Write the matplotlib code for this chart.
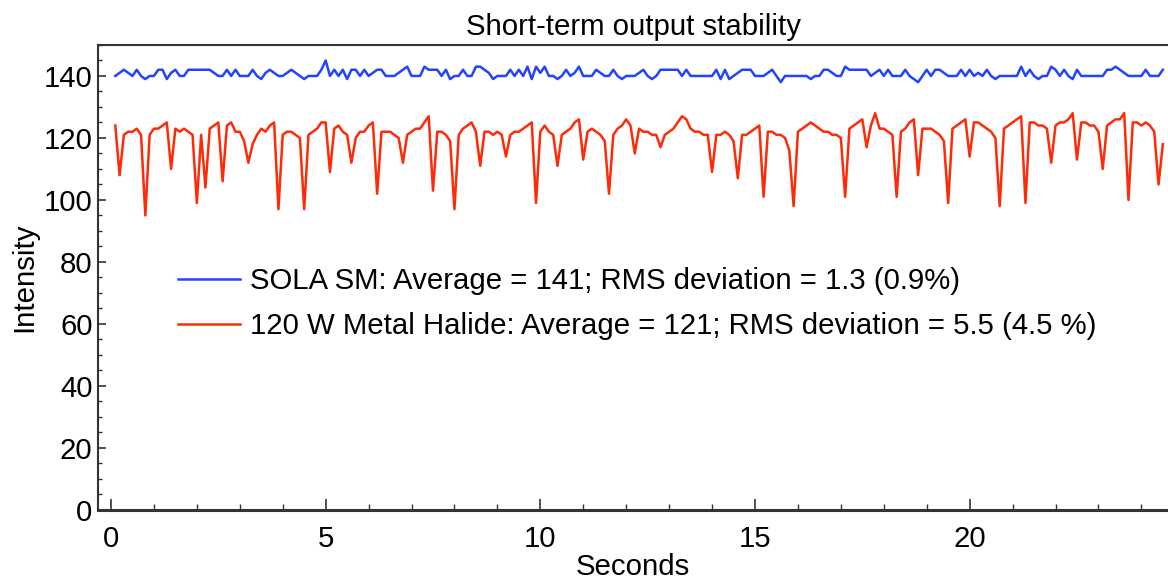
import numpy as np
import matplotlib.pyplot as plt
from matplotlib.ticker import MultipleLocator

plt.rcParams['font.family'] = ['Liberation Sans', 'DejaVu Sans']

# sample times, 0.1 s steps (0.1 .. 24.5 s)
seconds = np.round(np.arange(1, 246) * 0.1, 1)

# SOLA SM light engine
sola = [
    140, 141, 142, 141, 140, 142, 140, 139, 140, 140,
    142, 142, 139, 141, 142, 140, 140, 142, 142, 142,
    142, 142, 142, 141, 140, 140, 142, 140, 142, 140,
    140, 140, 142, 140, 139, 141, 142, 141, 140, 140,
    141, 142, 141, 140, 139, 140, 140, 140, 142, 145,
    140, 142, 140, 142, 139, 142, 142, 140, 142, 140,
    141, 142, 142, 140, 140, 140, 141, 142, 143, 140,
    140, 140, 143, 142, 142, 142, 140, 142, 139, 140,
    140, 142, 140, 140, 143, 143, 142, 141, 139, 140,
    140, 140, 142, 140, 142, 140, 143, 139, 143, 141,
    143, 140, 140, 139, 140, 142, 140, 141, 143, 140,
    140, 140, 142, 141, 140, 140, 142, 140, 139, 140,
    140, 140, 141, 142, 140, 139, 140, 142, 142, 142,
    142, 142, 140, 142, 140, 140, 140, 140, 140, 140,
    142, 139, 142, 139, 140, 141, 142, 142, 142, 140,
    140, 140, 141, 142, 140, 138, 140, 140, 140, 140,
    140, 140, 139, 140, 140, 142, 142, 141, 140, 140,
    143, 142, 142, 142, 142, 142, 140, 141, 142, 140,
    142, 140, 140, 140, 142, 140, 139, 138, 140, 142,
    140, 142, 142, 141, 140, 140, 140, 142, 140, 142,
    140, 141, 140, 142, 140, 139, 140, 140, 140, 140,
    140, 143, 140, 142, 140, 139, 140, 140, 143, 142,
    140, 142, 140, 139, 142, 140, 140, 140, 140, 140,
    140, 142, 142, 143, 142, 141, 140, 140, 140, 140,
    142, 140, 140, 140, 142,
]

# 120 W metal halide lamp
halide = [
    124, 108, 121, 122, 122, 123, 121, 95, 121, 123,
    123, 124, 125, 110, 123, 122, 123, 122, 121, 99,
    121, 104, 123, 124, 125, 106, 124, 125, 122, 122,
    119, 112, 118, 121, 123, 122, 124, 125, 97, 121,
    122, 122, 121, 120, 97, 121, 122, 123, 125, 125,
    109, 123, 124, 122, 121, 112, 120, 122, 122, 124,
    125, 102, 122, 122, 122, 121, 120, 112, 121, 122,
    123, 123, 125, 127, 103, 122, 122, 121, 119, 97,
    121, 123, 124, 125, 122, 111, 122, 122, 121, 122,
    121, 114, 121, 122, 122, 123, 124, 125, 99, 122,
    124, 122, 121, 111, 121, 122, 123, 125, 126, 113,
    122, 123, 122, 121, 119, 102, 121, 123, 124, 126,
    124, 115, 123, 122, 122, 121, 121, 117, 121, 122,
    123, 125, 127, 126, 123, 122, 122, 121, 121, 109,
    121, 121, 122, 121, 119, 107, 121, 121, 122, 123,
    124, 101, 122, 122, 121, 121, 120, 116, 98, 122,
    123, 124, 125, 124, 123, 122, 122, 121, 121, 120,
    101, 123, 124, 125, 126, 117, 124, 128, 123, 123,
    122, 121, 101, 122, 123, 125, 126, 108, 123, 123,
    123, 122, 121, 119, 99, 123, 124, 125, 126, 114,
    125, 125, 124, 123, 122, 120, 98, 123, 124, 125,
    126, 127, 99, 125, 125, 124, 124, 123, 112, 124,
    125, 125, 126, 128, 113, 125, 125, 124, 124, 122,
    110, 124, 125, 126, 126, 128, 100, 125, 125, 124,
    125, 124, 122, 105, 118,
]

labels = ['SOLA SM: Average = 141; RMS deviation = 1.3 (0.9%)',
          '120 W Metal Halide: Average = 121; RMS deviation = 5.5 (4.5 %)']

fs = 21.2

fig = plt.figure(figsize=(11.68, 5.84), dpi=100)
ax = fig.add_axes([0.084, 0.127, 0.916, 0.796])

ax.plot(seconds, sola, color='#2244ff', lw=1.8, label=labels[0])
ax.plot(seconds, halide, color='#ff2a08', lw=1.8, label=labels[1])

ax.set_xlim(-0.3, 24.62)
ax.set_ylim(0, 150)
ax.xaxis.set_major_locator(MultipleLocator(5))
ax.xaxis.set_minor_locator(MultipleLocator(1))
ax.yaxis.set_major_locator(MultipleLocator(20))
ax.yaxis.set_minor_locator(MultipleLocator(5))

ax.tick_params(which='both', direction='in', colors='#333333', labelcolor='black',
               labelsize=fs)
ax.tick_params(axis='x', which='major', length=8, width=1.2, pad=11)
ax.tick_params(axis='x', which='minor', length=4, width=1.0)
ax.tick_params(axis='y', which='major', length=6, width=1.2, pad=4)
ax.tick_params(axis='y', which='minor', length=3, width=1.0)
ax.tick_params(top=False, right=False, which='both')

for side in ['left', 'top']:
    ax.spines[side].set_color('#333333')
    ax.spines[side].set_linewidth(1.5)
ax.spines['bottom'].set_color('#333333')
ax.spines['bottom'].set_linewidth(2.2)
ax.spines['right'].set_visible(False)

ax.set_title('Short-term output stability', fontsize=fs, pad=7)
ax.set_xlabel('Seconds', fontsize=fs, labelpad=0)
ax.set_ylabel('Intensity', fontsize=fs, labelpad=4)

ax.legend(loc='upper left', bbox_to_anchor=(0.075, 0.522), frameon=False,
          fontsize=fs, handlelength=2.1, handletextpad=0.35, labelspacing=0.57,
          borderpad=0, borderaxespad=0)

fig.savefig('out.png', dpi=100)
